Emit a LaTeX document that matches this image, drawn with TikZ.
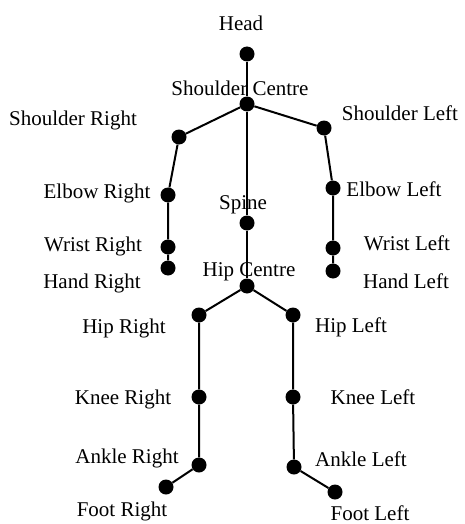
\documentclass[tikz,border=0pt]{standalone}
\usepackage{fontspec}
\setmainfont{Liberation Serif}
\usepackage{tikz}
\usetikzlibrary{backgrounds}
\tikzset{
  joint/.style={circle,fill=black,minimum size=15pt,inner sep=0pt},
  lbl/.style={inner sep=0pt,font=\fontsize{21}{24}\selectfont},
  bone/.style={line width=2pt,black},
}

\begin{document}
\begin{tikzpicture}[x=1pt,y=-1pt]
  \useasboundingbox (0,0) rectangle (465,524);
  % joints
  \node[joint] (head) at (247,54){};
  \node[joint] (shc) at (247,104){};
  \node[joint] (shr) at (179,137){};
  \node[joint] (shl) at (324,128){};
  \node[joint] (elr) at (168,195){};
  \node[joint] (ell) at (333,188){};
  \node[joint] (spine) at (247,223){};
  \node[joint] (wrr) at (168,247){};
  \node[joint] (wrl) at (333,248){};
  \node[joint] (har) at (168,268){};
  \node[joint] (hal) at (333,271){};
  \node[joint] (hipc) at (247,286){};
  \node[joint] (hipr) at (199,315){};
  \node[joint] (hipl) at (293,315){};
  \node[joint] (knr) at (199,397){};
  \node[joint] (knl) at (293,397){};
  \node[joint] (anr) at (199,465){};
  \node[joint] (anl) at (294,467){};
  \node[joint] (ftr) at (166,487){};
  \node[joint] (ftl) at (335,492){};
  \begin{scope}[on background layer]
    % labels
    \node[lbl] (headL) at (241,23){Head};
    \node[lbl] (shcL) at (240,88){Shoulder Centre};
    \node[lbl] (shrL) at (73,120){Shoulder Right};
    \node[lbl] (shlL) at (400,113){Shoulder Left};
    \node[lbl] (elrL) at (97,193){Elbow Right};
    \node[lbl] (ellL) at (394,189){Elbow Left};
    \node[lbl] (spineL) at (243,205){Spine};
    \node[lbl] (wrrL) at (93,246){Wrist Right};
    \node[lbl] (wrlL) at (407,243){Wrist Left};
    \node[lbl] (harL) at (92,283){Hand Right};
    \node[lbl] (halL) at (406,281){Hand Left};
    \node[lbl] (hipcL) at (249,272){Hip Centre};
    \node[lbl] (hiprL) at (124,328){Hip Right};
    \node[lbl] (hiplL) at (351,327){Hip Left};
    \node[lbl] (knrL) at (123,399){Knee Right};
    \node[lbl] (knlL) at (373,397){Knee Left};
    \node[lbl] (anrL) at (127,458){Ankle Right};
    \node[lbl] (anlL) at (361,459){Ankle Left};
    \node[lbl] (ftrL) at (122,511){Foot Right};
    \node[lbl] (ftlL) at (370,513){Foot Left};
    % bones
    \draw[bone] (head) -- (shc) -- (spine) -- (hipc);
    \draw[bone] (shc) -- (shr) -- (elr) -- (wrr) -- (har);
    \draw[bone] (shc) -- (shl) -- (ell) -- (wrl) -- (hal);
    \draw[bone] (hipc) -- (hipr) -- (knr) -- (anr) -- (ftr);
    \draw[bone] (hipc) -- (hipl) -- (knl) -- (anl) -- (ftl);
  \end{scope}
\end{tikzpicture}
\end{document}
